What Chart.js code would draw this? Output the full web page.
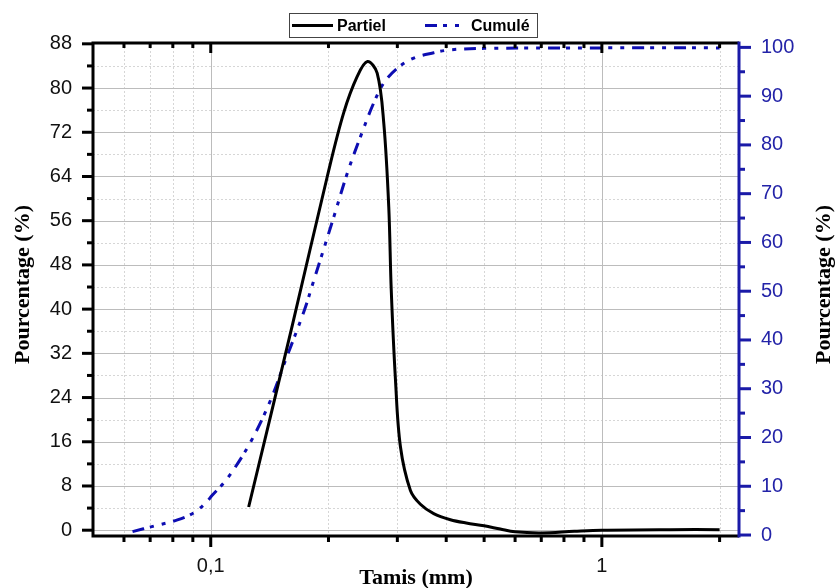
<!DOCTYPE html>
<html><head><meta charset="utf-8">
<script src="https://cdn.jsdelivr.net/npm/chart.js@4.4.0/dist/chart.umd.min.js"></script>
<style>html,body{margin:0;padding:0;background:#fff;}#wrap{width:835px;height:588px;position:relative;}</style>
</head><body><div id="wrap"><canvas id="c" width="835" height="588"></canvas></div>
<script>
// ---- data ----
const partielX = [0.125, 0.1617, 0.1986, 0.2187, 0.2369, 0.2516, 0.2664, 0.277, 0.2852, 0.2894, 0.2967, 0.3055, 0.324, 0.3436, 0.3716, 0.41, 0.45, 0.5, 0.55, 0.6, 0.7, 0.85, 1.0, 1.5, 2.0];
const partielY = [4.2, 37.1, 64.0, 75.5, 82.1, 84.8, 82.7, 73.6, 58.5, 43.5, 27.2, 15.1, 7.2, 4.7, 3.0, 1.9, 1.3, 0.8, 0.2, -0.3, -0.5, -0.2, 0.0, 0.1, 0.1];
const cumuleX = [0.0631, 0.0717, 0.0822, 0.0907, 0.0971, 0.101, 0.1103, 0.1265, 0.1423, 0.1554, 0.173, 0.1836, 0.2065, 0.2234, 0.2415, 0.261, 0.277, 0.2997, 0.3304, 0.3716, 0.41, 0.5, 1.0, 2.0];
const cumuleY = [0.7, 1.85, 3.1, 4.6, 6.6, 8.2, 11.6, 19.1, 27.7, 35.9, 45.8, 52.3, 65.3, 74.2, 81.7, 88.6, 92.7, 95.7, 97.8, 98.9, 99.5, 99.8, 99.9, 99.9];
const seriesNames = ['Partiel', 'Cumulé'];
const leftTicks = [0, 8, 16, 24, 32, 40, 48, 56, 64, 72, 80, 88];
const leftMinorTicks = [4, 12, 20, 28, 36, 44, 52, 60, 68, 76, 84];
const rightTicks = [0, 10, 20, 30, 40, 50, 60, 70, 80, 90, 100];
const rightMinorTicks = [5, 15, 25, 35, 45, 55, 65, 75, 85, 95];
const xMajorTicks = [0.1, 1];
const xTickLabels = ['0,1', '1'];
const xMinorTicks = [0.06, 0.07, 0.08, 0.09, 0.2, 0.3, 0.4, 0.5, 0.6, 0.7, 0.8, 0.9, 2];
const xTitle = 'Tamis (mm)';
const yTitle = 'Pourcentage (%)';

const BLUE = '#0d0db2';
const AXBLUE = '#1a1aa8';

const framePlugin = {
  id: 'frame',
  beforeDatasetsDraw(chart) {
    const {ctx, chartArea: a, scales} = chart;
    const x = scales.x, y = scales.y;
    ctx.save();
    ctx.lineWidth = 1;
    ctx.strokeStyle = '#d6d6d6';
    ctx.setLineDash([2, 2]);
    leftMinorTicks.forEach(v => { const p = Math.round(y.getPixelForValue(v)) + 0.5; ctx.beginPath(); ctx.moveTo(a.left, p); ctx.lineTo(a.right, p); ctx.stroke(); });
    xMinorTicks.forEach(v => { const p = Math.round(x.getPixelForValue(v)) + 0.5; ctx.beginPath(); ctx.moveTo(p, a.top); ctx.lineTo(p, a.bottom); ctx.stroke(); });
    ctx.setLineDash([]);
    ctx.strokeStyle = '#bcbcbc';
    leftTicks.forEach(v => { if (v >= 88) return; const p = Math.round(y.getPixelForValue(v)) + 0.5; ctx.beginPath(); ctx.moveTo(a.left, p); ctx.lineTo(a.right, p); ctx.stroke(); });
    xMajorTicks.forEach(v => { const p = Math.round(x.getPixelForValue(v)) + 0.5; ctx.beginPath(); ctx.moveTo(p, a.top); ctx.lineTo(p, a.bottom); ctx.stroke(); });
    ctx.restore();
  },
  afterDatasetsDraw(chart) {
    const {ctx, chartArea: a, scales} = chart;
    const x = scales.x, y = scales.y, y1 = scales.y1;
    ctx.save();
    ctx.lineWidth = 3;
    ctx.lineCap = 'butt';
    ctx.strokeStyle = '#000';
    ctx.beginPath();
    ctx.moveTo(a.left, a.top - 1.5); ctx.lineTo(a.left, a.bottom + 1.5);
    ctx.moveTo(a.left - 1.5, a.bottom); ctx.lineTo(a.right, a.bottom);
    ctx.moveTo(a.left - 1.5, a.top); ctx.lineTo(a.right, a.top);
    ctx.stroke();
    leftTicks.forEach(v => { const p = y.getPixelForValue(v); ctx.beginPath(); ctx.moveTo(a.left - 11, p); ctx.lineTo(a.left, p); ctx.stroke(); });
    leftMinorTicks.forEach(v => { const p = y.getPixelForValue(v); ctx.beginPath(); ctx.moveTo(a.left - 6, p); ctx.lineTo(a.left, p); ctx.stroke(); });
    xMajorTicks.forEach(v => { const p = x.getPixelForValue(v); ctx.beginPath(); ctx.moveTo(p, a.bottom); ctx.lineTo(p, a.bottom + 11); ctx.moveTo(p, a.top); ctx.lineTo(p, a.top + 10); ctx.stroke(); });
    xMinorTicks.forEach(v => { const p = x.getPixelForValue(v); ctx.beginPath(); ctx.moveTo(p, a.bottom); ctx.lineTo(p, a.bottom + 6); ctx.moveTo(p, a.top); ctx.lineTo(p, a.top + 5); ctx.stroke(); });
    ctx.strokeStyle = AXBLUE;
    ctx.beginPath(); ctx.moveTo(a.right, a.top - 1.5); ctx.lineTo(a.right, a.bottom + 1.5); ctx.stroke();
    rightTicks.forEach(v => { const p = y1.getPixelForValue(v); ctx.beginPath(); ctx.moveTo(a.right, p); ctx.lineTo(a.right + 12, p); ctx.stroke(); });
    rightMinorTicks.forEach(v => { const p = y1.getPixelForValue(v); ctx.beginPath(); ctx.moveTo(a.right, p); ctx.lineTo(a.right + 6, p); ctx.stroke(); });

    ctx.fillStyle = '#000';
    ctx.font = 'bold 22px "Liberation Serif", "Times New Roman", serif';
    ctx.textAlign = 'center';
    ctx.textBaseline = 'middle';
    const cy = (a.top + a.bottom) / 2 - 5;
    [[23, cy], [824, cy]].forEach(([tx, ty]) => {
      ctx.save(); ctx.translate(tx, ty); ctx.rotate(-Math.PI / 2); ctx.fillText(yTitle, 0, 0); ctx.restore();
    });
    ctx.fillText(xTitle, (a.left + a.right) / 2, 578);

    const lx = 289, ly = 13, lw = 248, lh = 24;
    ctx.fillStyle = '#fff';
    ctx.fillRect(lx, ly, lw, lh);
    ctx.lineWidth = 1;
    ctx.strokeStyle = '#444';
    ctx.strokeRect(lx + 0.5, ly + 0.5, lw, lh);
    const my = ly + lh / 2 + 0.5;
    ctx.lineWidth = 3;
    ctx.strokeStyle = '#000';
    ctx.beginPath(); ctx.moveTo(292, my); ctx.lineTo(333, my); ctx.stroke();
    ctx.strokeStyle = BLUE;
    ctx.setLineDash([12, 6, 4, 8, 4, 8]);
    ctx.beginPath(); ctx.moveTo(425, my); ctx.lineTo(466, my); ctx.stroke();
    ctx.setLineDash([]);
    ctx.fillStyle = '#000';
    ctx.font = 'bold 16px "Liberation Sans", Arial, sans-serif';
    ctx.textAlign = 'left';
    ctx.textBaseline = 'middle';
    ctx.fillText(seriesNames[0], 337, my + 1);
    ctx.fillText(seriesNames[1], 471, my + 1);
    ctx.restore();
  }
};

const tickFont = {family: '"Liberation Sans", Arial, sans-serif', size: 20};
new Chart(document.getElementById('c'), {
  type: 'line',
  data: {
    datasets: [
      {label: seriesNames[0], data: partielX.map((v, i) => ({x: v, y: partielY[i]})), xAxisID: 'x', yAxisID: 'y',
       borderColor: '#000', borderWidth: 3, pointRadius: 0, tension: 0.35, fill: false},
      {label: seriesNames[1], data: cumuleX.map((v, i) => ({x: v, y: cumuleY[i]})), xAxisID: 'x', yAxisID: 'y1',
       borderColor: BLUE, borderWidth: 3, borderDash: [12, 6, 4, 8, 4, 8], pointRadius: 0, tension: 0.35, fill: false}
    ]
  },
  options: {
    responsive: false,
    animation: false,
    layout: {padding: {top: 43, left: 0, right: 0, bottom: 0}},
    plugins: {legend: {display: false}, tooltip: {enabled: false}},
    scales: {
      x: {
        type: 'logarithmic', position: 'bottom', min: 0.05, max: 2.242,
        grid: {display: false, drawTicks: false, tickLength: 0}, border: {display: false},
        afterBuildTicks: s => { s.ticks = xMajorTicks.map(v => ({value: v})); },
        afterFit: s => { s.height = 52; },
        ticks: {autoSkip: false, maxRotation: 0, minRotation: 0, padding: 18, color: '#111', font: tickFont,
                callback: (v, i) => xTickLabels[i]}
      },
      y: {
        position: 'left', min: -1.05, max: 88.15,
        grid: {display: false, drawTicks: false, tickLength: 0}, border: {display: false},
        afterBuildTicks: s => { s.ticks = leftTicks.map(v => ({value: v})); },
        afterFit: s => { s.width = 93; },
        ticks: {autoSkip: false, padding: 21, color: '#111', font: tickFont, callback: v => String(v)}
      },
      y1: {
        position: 'right', min: -0.2, max: 100.9,
        grid: {display: false, drawTicks: false, tickLength: 0}, border: {display: false},
        afterBuildTicks: s => { s.ticks = rightTicks.map(v => ({value: v})); },
        afterFit: s => { s.width = 96; },
        ticks: {autoSkip: false, padding: 22, color: '#2323a8', font: tickFont, callback: v => String(v)}
      }
    }
  },
  plugins: [framePlugin]
});
</script>
</body></html>
